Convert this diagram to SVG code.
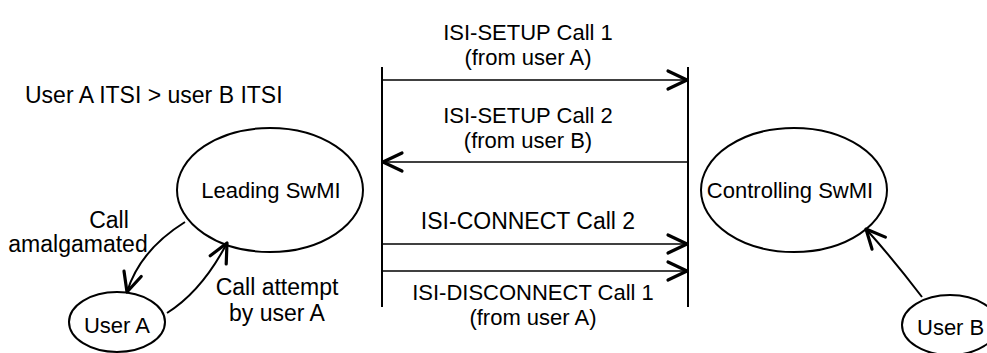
<svg xmlns="http://www.w3.org/2000/svg" width="987" height="353" viewBox="0 0 987 353">
<style>
text{font-family:"Liberation Sans",Arial,sans-serif;font-size:23px;fill:#000}
.m{text-anchor:middle}
.n{font-size:22px}
.node{fill:none;stroke:#000;stroke-width:2}
.life{stroke:#000;stroke-width:2}
.msg{stroke:#000;stroke-width:1.6;fill:none;marker-end:url(#ah)}
.cur{stroke:#000;stroke-width:2;fill:none;marker-end:url(#ah)}
</style>
<defs>
<marker id="ah" markerUnits="userSpaceOnUse" viewBox="-24 -12 28 24" refX="0" refY="0" markerWidth="28" markerHeight="24" orient="auto">
<path d="M-19,-9 L0,0 L-19,9" fill="none" stroke="#000" stroke-width="3.2" stroke-linejoin="round" stroke-linecap="round"/>
</marker>
</defs>
<rect width="987" height="353" fill="#fff"/>
<text x="25" y="103">User A ITSI &gt; user B ITSI</text>
<g id="leading">
<ellipse class="node" cx="270" cy="190" rx="93" ry="62"/>
<text class="m n" x="271" y="198">Leading SwMI</text>
</g>
<g id="controlling">
<ellipse class="node" cx="794" cy="190" rx="93" ry="62"/>
<text class="m n" x="790" y="198">Controlling SwMI</text>
</g>
<g id="userA">
<ellipse class="node" cx="117" cy="322" rx="48" ry="30"/>
<text class="m n" x="117" y="333">User A</text>
</g>
<g id="userB">
<ellipse class="node" cx="950" cy="325" rx="48" ry="30"/>
<text class="n" x="917" y="335">User B</text>
</g>
<g id="lifelines">
<line class="life" x1="382" y1="67" x2="382" y2="307"/>
<line class="life" x1="688" y1="67" x2="688" y2="307"/>
</g>
<g id="connectors">
<line class="msg" x1="382" y1="80" x2="687" y2="80"/>
<line class="msg" x1="688" y1="162" x2="383" y2="162"/>
<line class="msg" x1="382" y1="244" x2="687" y2="244"/>
<line class="msg" x1="382" y1="271" x2="687" y2="271"/>
<path class="cur" d="M185,222 Q140,250 127,292"/>
<path class="cur" d="M167,313 Q202,291 227,243"/>
<path class="cur" d="M922,297 Q893,259 866,229"/>
</g>
<g id="labels">
<text class="m n" x="528" y="40">ISI-SETUP Call 1</text>
<text class="m n" x="528" y="65">(from user A)</text>
<text class="m n" x="528" y="123">ISI-SETUP Call 2</text>
<text class="m n" x="528" y="148">(from user B)</text>
<text class="m" x="528" y="229">ISI-CONNECT Call 2</text>
<text class="m n" x="533" y="300">ISI-DISCONNECT Call 1</text>
<text class="m n" x="533" y="325">(from user A)</text>
<text class="m" x="109" y="228">Call</text>
<text class="m" x="78" y="252">amalgamated</text>
<text class="m" x="277" y="295">Call attempt</text>
<text class="m" x="277" y="321">by user A</text>
</g>
</svg>
